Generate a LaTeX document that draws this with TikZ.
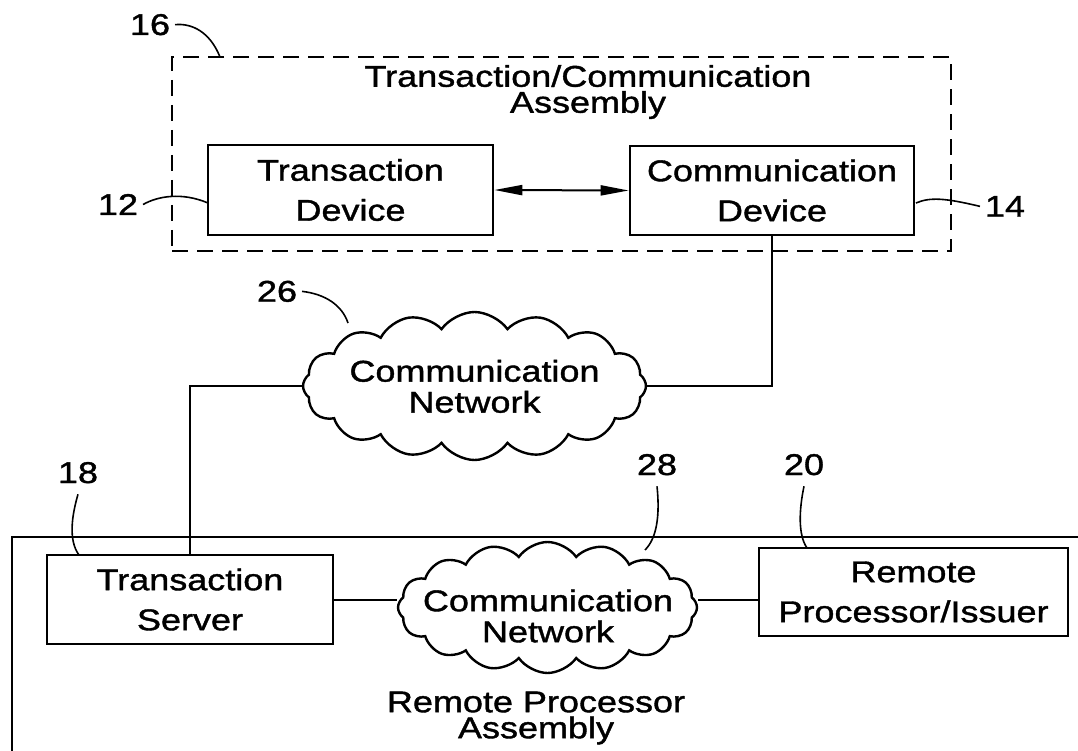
\documentclass[tikz,border=0pt]{standalone}
\usepackage{fontspec}
\setmainfont{Liberation Sans}[FakeStretch=1.2,FakeBold=1.3]
\usetikzlibrary{shapes.symbols,arrows.meta}
\begin{document}
\begin{tikzpicture}[x=1pt,y=-1pt,
  box/.style={draw, line width=2.6pt, inner sep=0pt, align=center,
    font=\fontsize{30}{40}\selectfont},
  cloudshape/.style={cloud, draw, line width=2.4pt, cloud puffs=16,
    cloud puff arc=110, cloud ignores aspect, inner sep=0pt},
  cloudtext/.style={align=center, inner sep=0pt, font=\fontsize{30}{31}\selectfont},
  asmtext/.style={align=center, inner sep=0pt, font=\fontsize{30}{26}\selectfont},
  hlabel/.style={anchor=base, inner sep=0pt, outer sep=5pt, font=\fontsize{30}{36}\selectfont},
  vlabel/.style={anchor=base, inner sep=0pt, outer sep=11pt, font=\fontsize{30}{36}\selectfont},
  leader/.style={line width=1.6pt},
  conn/.style={line width=2pt},
  dashbox/.style={draw, line width=2pt, dash pattern=on 16pt off 9pt, inner sep=0pt}]
\useasboundingbox (0,0) rectangle (1078,751);

% assembly 16
\node[dashbox, minimum width=779pt, minimum height=194pt] (asm) at (561.5,154) {};
\node[asmtext] (title) at (588,92) {Transaction/Communication\\Assembly};

% devices
\node[box, minimum width=285pt, minimum height=90pt] (td) at (350.5,190) {Transaction\\Device};
\node[box, minimum width=284pt, minimum height=89pt] (cd) at (772,190.5) {Communication\\Device};
\draw[conn, {Triangle[length=28pt,width=10pt]}-{Triangle[length=28pt,width=10pt]}] (td.east) -- (cd.west);

% network 26
\node[cloudshape, minimum width=343pt, minimum height=148pt] (c1) at (474.5,386) {};
\node[cloudtext] (c1t) at (474.5,386.4) {Communication\\Network};

% remote processor assembly
\draw[line width=2.3pt] (12,751) -- (12,537) -- (1078,537);
\node[asmtext] (rpatext) at (536,718) {Remote Processor\\Assembly};

\node[box, minimum width=286pt, minimum height=89pt] (ts) at (190,599.5) {Transaction\\Server};
\node[box, minimum width=309pt, minimum height=88pt] (rp) at (913.5,592) {Remote\\Processor/Issuer};
\node[cloudshape, minimum width=299pt, minimum height=131pt] (c2) at (547.5,607.5) {};
\node[cloudtext] (c2t) at (548,616) {Communication\\Network};

% connectors
\draw[conn] (cd.south) |- (c1.east);
\draw[conn] (ts.north) |- (c1.west);
\draw[conn] (ts.east) -- (c2.west |- ts.east);
\draw[conn] (c2.east |- ts.east) -- (rp.west |- ts.east);

% reference labels
\node[hlabel] (l16) at (150,35) {16};
\node[hlabel] (l12) at (118,215) {12};
\node[hlabel] (l14) at (1005,216.7) {14};
\node[hlabel] (l26) at (277,301.7) {26};
\node[vlabel] (l18) at (78,483) {18};
\node[vlabel] (l20) at (804,475) {20};
\node[vlabel] (l28) at (657,475) {28};

\coordinate (e16) at (220,57);
\coordinate (e12) at (208,203);
\coordinate (e14) at (916,203);
\coordinate (e26) at (348,323);
\coordinate (e18) at (79,555);
\coordinate (e20) at (807,548);
\coordinate (e28) at (645,550);

\draw[leader] (l16.east) .. controls (192,23) and (210,32) .. (e16);
\draw[leader] (l12.east) .. controls (158,196) and (182,192) .. (e12);
\draw[leader] (e14) .. controls (930,197) and (945,198) .. (l14.west);
\draw[leader] (l26.east) .. controls (325,294) and (342,305) .. (e26);
\draw[leader] (l18.south) .. controls (72,515) and (68,540) .. (e18);
\draw[leader] (l20.south) .. controls (799,510) and (798,535) .. (e20);
\draw[leader] (l28.south) .. controls (660,515) and (657,538) .. (e28);
\end{tikzpicture}
\end{document}
